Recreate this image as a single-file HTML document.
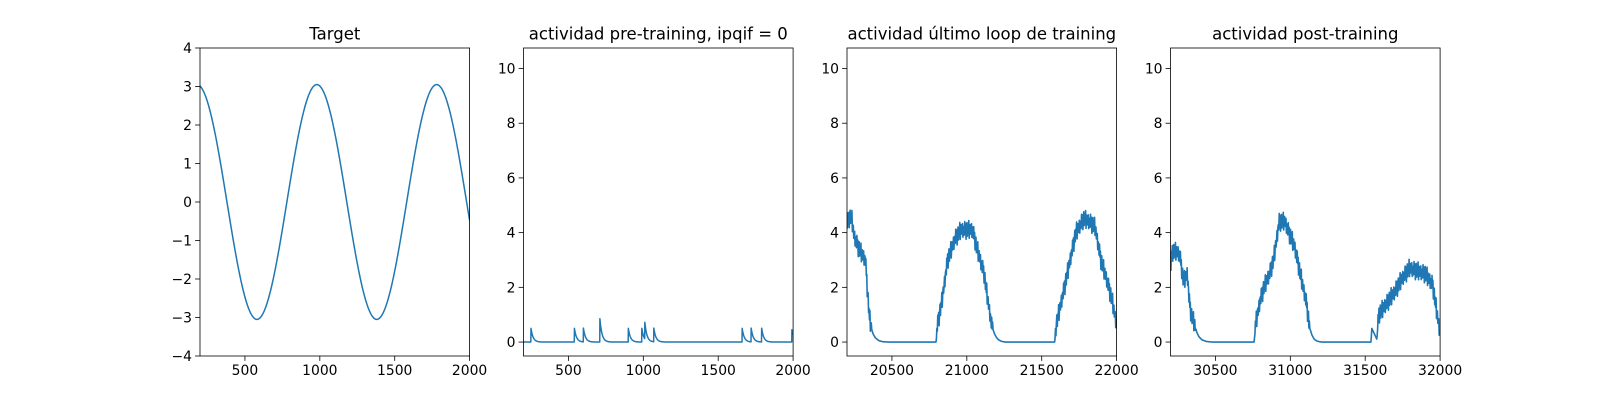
<!DOCTYPE html>
<html><head><meta charset="utf-8"><style>
html,body{margin:0;padding:0;background:#fff;}
svg{display:block;font-family:"DejaVu Sans","Liberation Sans",sans-serif;}
</style></head><body>
<svg id="fig" width="1600" height="400"></svg>
<script>
// ---- data ----
const targetAmp = 3.05, targetPeriod = 800, targetPhase = 980;
const preSpikeTimes = [250, 540, 600, 710, 900, 990, 1010, 1070, 1660, 1720, 1790, 1992];
const preSpikeHeights = [0.5, 0.5, 0.5, 0.85, 0.5, 0.5, 0.6, 0.5, 0.5, 0.5, 0.5, 0.45];
const lastX = [0,10,30,46,72,100,123,135,148,160,174,190,210,240,280,596,600,634,672,723,762,800,838,864,915,941,966,985,1000,1015,1035,1060,1388,1392,1452,1490,1528,1580,1620,1656,1695,1733,1771,1797,1800];
const lastY = [4.3,4.5,4.6,3.9,3.5,3.2,3.0,2.0,1.0,0.55,0.3,0.15,0.06,0.01,0.0,0.0,0.5,1.5,3.0,3.8,4.1,4.1,4.1,3.5,2.5,1.5,0.6,0.3,0.15,0.07,0.02,0.0,0.0,0.5,2.0,3.0,4.0,4.5,4.4,4.2,3.0,2.3,1.5,0.7,0.6];
const postX = [0,10,40,61,87,112,125,138,164,176,189,210,240,280,560,563,598,624,662,688,726,764,790,828,866,905,930,945,960,980,1010,1339,1344,1378,1390,1441,1493,1544,1595,1646,1700,1750,1775,1800];
const postY = [2.6,3.3,3.3,3.2,2.2,2.5,1.5,1.0,0.6,0.35,0.2,0.08,0.02,0.0,0.0,0.5,1.5,2.0,2.5,3.0,4.4,4.4,4.0,3.5,2.5,1.5,0.5,0.25,0.1,0.03,0.0,0.0,0.5,0.1,1.0,1.4,1.8,2.3,2.7,2.6,2.5,2.1,1.2,0.3];
const jitter = [0.3,-0.5,0.8,-0.2,0.6,-0.9,0.1,0.7,-0.6,0.4,-0.3,0.9,-0.8,0.2,0.5,-0.4,-0.1,0.6,-0.7,0.3];
const xTicks1 = [500,1000,1500,2000];
const yTicks1 = [-4,-3,-2,-1,0,1,2,3,4];
const yTicks2 = [0,2,4,6,8,10];
const xTicks3 = [20500,21000,21500,22000];
const xTicks4 = [30500,31000,31500,32000];
const titles = ["Target","actividad pre-training, ipqif = 0","actividad último loop de training","actividad post-training"];

const NS="http://www.w3.org/2000/svg";
const svg=document.getElementById('fig');
function el(t,a,p){const e=document.createElementNS(NS,t);for(const k in a)e.setAttribute(k,a[k]);(p||svg).appendChild(e);return e;}
const W=269.6, gap=53.9, L0=200, TOP=48, BOT=356;
function panel(i,x0,x1,y0,y1,xt,yt,pts,sw,name){
  const left=L0+i*(W+gap), right=left+W;
  const sx=v=>left+(v-x0)/(x1-x0)*W, sy=v=>BOT-(v-y0)/(y1-y0)*(BOT-TOP);
  const g=el('g',{});
  
  
  const cp=el('clipPath',{id:'c'+i},g);el('rect',{x:left,y:TOP,width:W,height:BOT-TOP},cp);
  const d=pts.map((p,k)=>(k?'L':'M')+sx(p[0]).toFixed(2)+' '+sy(p[1]).toFixed(2)).join('');
  const line=el('path',{d:d,fill:'none',stroke:'#1f77b4','stroke-width':sw,'stroke-linejoin':'round','clip-path':'url(#c'+i+')'},g);
  
  
  const fr=el('rect',{x:left,y:TOP,width:W,height:BOT-TOP,fill:'none',stroke:'#000','stroke-width':0.8},g);
  
  
  xt.forEach(v=>{const X=sx(v);el('line',{x1:X,x2:X,y1:BOT,y2:BOT+4.9,stroke:'#000','stroke-width':0.8},g);
    const t=el('text',{x:X,y:BOT+19,'text-anchor':'middle','font-size':13.9},g);t.textContent=v;
    
    });
  yt.forEach(v=>{const Y=sy(v);el('line',{x1:left-4.9,x2:left,y1:Y,y2:Y,stroke:'#000','stroke-width':0.8},g);
    const t=el('text',{x:left-8,y:Y+5,'text-anchor':'end','font-size':13.9},g);t.textContent=v<0?'\u2212'+(-v):v;
    
    });
  const tt=el('text',{x:(left+right)/2,y:TOP-8.3,'text-anchor':'middle','font-size':16.5},g);tt.textContent=titles[i];
  
  
}
const tp=[];for(let x=200;x<=2000;x+=5)tp.push([x,targetAmp*Math.cos(2*Math.PI*(x-targetPhase)/targetPeriod)]);
const pp=[];for(let x=200;x<=2000;x+=1){let v=0;preSpikeTimes.forEach((t,k)=>{if(x>=t)v+=preSpikeHeights[k]*Math.exp(-(x-t)/14);});pp.push([x,v]);}
function noisy(base,xs,ys){const out=[];let j=0;for(let x=0;x<=1800;x+=3){let k=0;while(k<xs.length-2&&xs[k+1]<x)k++;
  const f=(x-xs[k])/((xs[k+1]-xs[k])||1);let v=ys[k]+(ys[k+1]-ys[k])*Math.min(1,Math.max(0,f));
  if(v>0.5)v+=jitter[j%jitter.length]*0.38;j++;out.push([base+x,v]);}return out;}
const YL=-0.51,YH=10.75;
panel(0,200,2000,-4,4,xTicks1,yTicks1,tp,1.5,'target-panel');
panel(1,200,2000,YL,YH,xTicks1,yTicks2,pp,1.5,'pre-training-panel');
panel(2,20200,22000,YL,YH,xTicks3,yTicks2,noisy(20200,lastX,lastY),1.6,'last-loop-panel');
panel(3,30200,32000,YL,YH,xTicks4,yTicks2,noisy(30200,postX,postY),1.6,'post-training-panel');
</script>
</body></html>
